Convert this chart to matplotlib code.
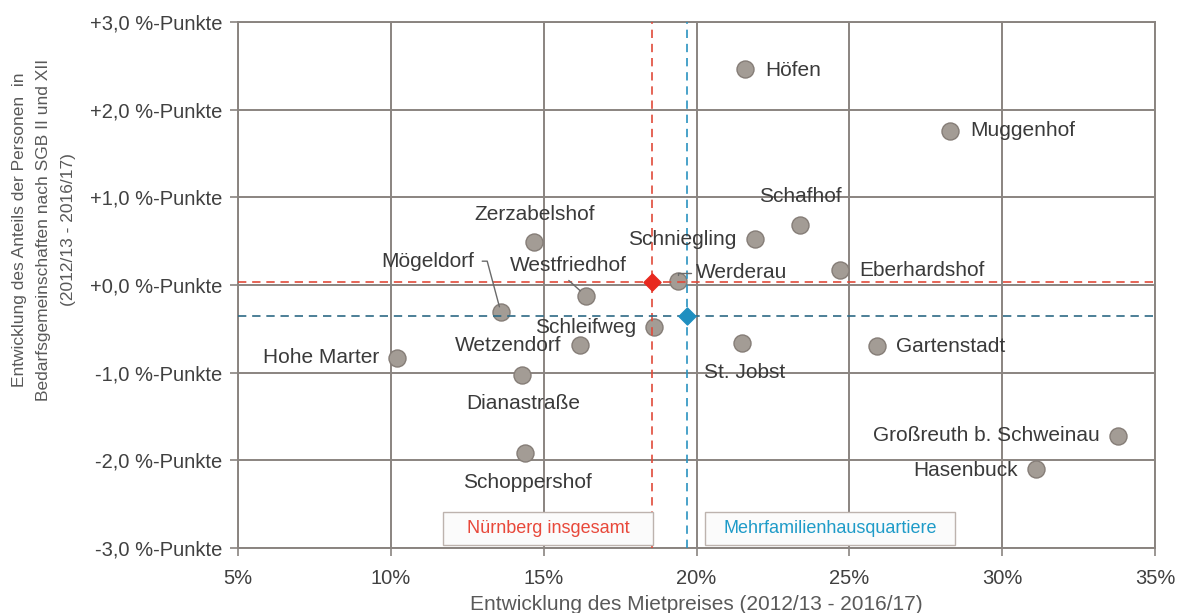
import matplotlib
matplotlib.use("Agg")
import matplotlib.pyplot as plt
from matplotlib.patches import Rectangle

plt.rcParams['font.family'] = ['Liberation Sans', 'DejaVu Sans']

# ---- data ----
names = ["Höfen", "Muggenhof", "Schafhof", "Schniegling", "Eberhardshof",
         "Zerzabelshof", "Westfriedhof", "Werderau", "Mögeldorf", "Schleifweg",
         "Wetzendorf", "St. Jobst", "Gartenstadt", "Hohe Marter", "Dianastraße",
         "Schoppershof", "Großreuth b. Schweinau", "Hasenbuck"]
rent_change = [21.6, 28.3, 23.4, 21.9, 24.7,
               14.7, 16.4, 19.4, 13.6, 18.6,
               16.2, 21.5, 25.9, 10.2, 14.3,
               14.4, 33.8, 31.1]
sgb_change = [2.46, 1.76, 0.68, 0.52, 0.17,
              0.49, -0.13, 0.05, -0.31, -0.48,
              -0.69, -0.66, -0.70, -0.83, -1.03,
              -1.92, -1.72, -2.10]

nbg_total = (18.55, 0.03)      # Nürnberg insgesamt
mfh_total = (19.7, -0.35)      # Mehrfamilienhausquartiere

x_ticks = [5, 10, 15, 20, 25, 30, 35]
x_ticklabels = ["5%", "10%", "15%", "20%", "25%", "30%", "35%"]
y_ticks = [3, 2, 1, 0, -1, -2, -3]
y_ticklabels = ["+3,0 %-Punkte", "+2,0 %-Punkte", "+1,0 %-Punkte", "+0,0 %-Punkte",
                "-1,0 %-Punkte", "-2,0 %-Punkte", "-3,0 %-Punkte"]

# label placement: (ha, dx_px, dy_px [screen up positive], leader)
label_pos = {
    "Höfen": ("left", 20, -1, None),
    "Muggenhof": ("left", 20, 0, None),
    "Schafhof": ("center", 0, 29, None),
    "Schniegling": ("right", -18, 0, None),
    "Eberhardshof": ("left", 19, 0, None),
    "Zerzabelshof": ("center", 0, 28, None),
    "Westfriedhof": ("center", -18, 31, "straight"),
    "Werderau": ("left", 18, 8, "hook"),
    "Mögeldorf": ("right", -27, 51, "elbow"),
    "Schleifweg": ("right", -18, 0, None),
    "Wetzendorf": ("right", -19, 0, None),
    "St. Jobst": ("center", 2, -30, None),
    "Gartenstadt": ("left", 19, 0, None),
    "Hohe Marter": ("right", -18, 0, None),
    "Dianastraße": ("center", 1, -28, None),
    "Schoppershof": ("center", 2, -29, None),
    "Großreuth b. Schweinau": ("right", -19, 0, None),
    "Hasenbuck": ("right", -18, -1, None),
}

fig = plt.figure(figsize=(11.79, 6.13), dpi=100)
ax = fig.add_axes([238/1179, 1-548/613, (1155-238)/1179, (548-22)/613])

ax.set_xlim(5, 35)
ax.set_ylim(-3, 3)
ax.set_xticks(x_ticks)
ax.set_xticklabels(x_ticklabels)
ax.set_yticks(y_ticks)
ax.set_yticklabels(y_ticklabels)
ax.tick_params(axis='both', colors='#8a8480', labelcolor='#404040', labelsize=14.5,
               length=6, width=1.2, direction='out')
ax.tick_params(axis='x', pad=9)
ax.tick_params(axis='y', pad=5)
ax.grid(True, color='#8a8480', linewidth=1.4, zorder=0)
for s in ax.spines.values():
    s.set_color('#8a8480')
    s.set_linewidth(1.4)
ax.set_axisbelow(True)

ax.scatter(rent_change, sgb_change, s=150, color='#a39c95', edgecolors='#857d77',
           linewidths=1.0, zorder=3)

# reference lines (drawn over the points)
dash = (0, (5, 3.5))
ax.axvline(nbg_total[0], color='#e04a3a', linestyle=dash, linewidth=1.2, zorder=4)
ax.axhline(nbg_total[1], color='#e04a3a', linestyle=dash, linewidth=1.2, zorder=4)
ax.axvline(mfh_total[0], color='#2a92c0', linestyle=dash, linewidth=1.2, zorder=4)
ax.axhline(mfh_total[1], color='#2d6a85', linestyle=dash, linewidth=1.2, zorder=4)

ax.scatter([nbg_total[0]], [nbg_total[1]], marker='D', s=75, color='#e8281e', zorder=5)
ax.scatter([mfh_total[0]], [mfh_total[1]], marker='D', s=75, color='#1f8fc0', zorder=5)

px = 0.72
for n, x, y in zip(names, rent_change, sgb_change):
    ha, dx, dy, leader = label_pos[n]
    kw = dict(xy=(x, y), xytext=(dx*px, dy*px), textcoords='offset points',
              ha=ha, va='center', fontsize=15, color='#3a3a3a', zorder=6)
    if leader == "straight":
        kw['arrowprops'] = dict(arrowstyle='-', color='#6a6a6a', lw=1.0,
                                relpos=(0.45, 0.0), shrinkA=3, shrinkB=6)
    elif leader == "elbow":
        kw['arrowprops'] = dict(arrowstyle='-', color='#6a6a6a', lw=1.0,
                                relpos=(1.0, 0.5), shrinkA=4, shrinkB=4,
                                connectionstyle="angle,angleA=0,angleB=105,rad=0")
    elif leader == "hook":
        kw['arrowprops'] = dict(arrowstyle='-', color='#6a6a6a', lw=1.0,
                                relpos=(0.0, 0.5), shrinkA=2, shrinkB=4,
                                connectionstyle="angle,angleA=180,angleB=90,rad=0")
    ax.annotate(n, **kw)

# legend-like boxes
for (x0, x1, label, col) in [(443, 653, "Nürnberg insgesamt", '#e8483a'),
                             (705, 955, "Mehrfamilienhausquartiere", '#1e9bc8')]:
    fx0 = (x0-238)/917
    fx1 = (x1-238)/917
    fy0 = (548-545)/526
    fy1 = (548-512)/526
    ax.add_patch(Rectangle((fx0, fy0), fx1-fx0, fy1-fy0, transform=ax.transAxes,
                           facecolor='#fbfbfb', edgecolor='#bdb3ae', linewidth=1.0, zorder=6))
    ax.text((fx0+fx1)/2, (fy0+fy1)/2, label, transform=ax.transAxes, ha='center',
            va='center', fontsize=13, color=col, zorder=7)

ax.set_xlabel("Entwicklung des Mietpreises (2012/13 - 2016/17)", fontsize=15,
              color='#595959', labelpad=5)
fig.text(44/1179, 1-230/613,
         "Entwicklung des Anteils der Personen  in\nBedarfsgemeinschaften nach SGB II und XII\n(2012/13 - 2016/17)",
         rotation=90, ha='center', va='center', multialignment='center',
         fontsize=12.5, color='#595959', linespacing=1.75)

fig.savefig("out.png", dpi=100)
